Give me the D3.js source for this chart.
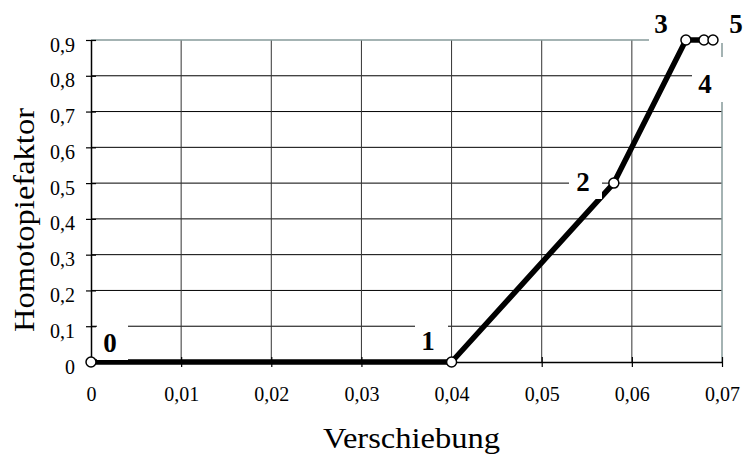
<!DOCTYPE html>
<html><head><meta charset="utf-8">
<script src="https://cdn.jsdelivr.net/npm/d3@7"></script>
<style>body{margin:0;background:#fff}svg{display:block}</style>
</head><body>
<svg id="c" width="744" height="456"></svg>
<script>
const xValues = [0, 0.04, 0.058, 0.066, 0.068, 0.069];
const yValues = [0, 0, 0.5, 0.9, 0.9, 0.9];
const pointLabels = ["0", "1", "2", "3", "4", "5"];
const xTicks = [0, 0.01, 0.02, 0.03, 0.04, 0.05, 0.06, 0.07];
const yTicks = [0, 0.1, 0.2, 0.3, 0.4, 0.5, 0.6, 0.7, 0.8, 0.9];
const xTitle = "Verschiebung";
const yTitle = "Homotopiefaktor";

const font = "'Liberation Serif', 'DejaVu Serif', serif";
const svg = d3.select("#c");
const x = d3.scaleLinear().domain([0, 0.07]).range([91, 722]);
const y = d3.scaleLinear().domain([0, 0.9]).range([362, 40]);
const fmtX = d => d === 0 ? "0" : d3.format(".2f")(d).replace(".", ",");
const fmtY = d => d === 0 ? "0" : d3.format(".1f")(d).replace(".", ",");

// grid
const g = svg.append("g");
g.selectAll(".hg").data(yTicks.filter(d => d > 0 && d < 0.9)).join("line")
  .attr("x1", x(0)).attr("x2", x(0.07)).attr("y1", d => y(d)).attr("y2", d => y(d))
  .attr("stroke", "#000").attr("stroke-width", 1);
g.selectAll(".vg").data(xTicks.filter(d => d > 0 && d < 0.07)).join("line")
  .attr("x1", d => x(d)).attr("x2", d => x(d)).attr("y1", y(0)).attr("y2", y(0.9))
  .attr("stroke", "#333").attr("stroke-width", 1);
g.append("line").attr("x1", x(0)).attr("x2", x(0.07)).attr("y1", y(0.9)).attr("y2", y(0.9))
  .attr("stroke", "#869a9a").attr("stroke-width", 1.5);
g.append("line").attr("x1", x(0.07)).attr("x2", x(0.07)).attr("y1", y(0.9)).attr("y2", y(0))
  .attr("stroke", "#869a9a").attr("stroke-width", 1.5);

// data line
const pts = xValues.map((v, i) => [v, yValues[i]]);
svg.append("path").datum(pts)
  .attr("d", d3.line().x(d => x(d[0])).y(d => y(d[1])))
  .attr("fill", "none").attr("stroke", "#000").attr("stroke-width", 5.5).attr("stroke-linejoin", "round");

// label boxes (mask gridlines)
const boxes = [
  {i: 0, bx: 97, by: 318, w: 31, h: 42, tx: 110, ty: 352},
  {i: 1, bx: 415, by: 318, w: 33, h: 37, tx: 428, ty: 350},
  {i: 2, bx: 569, by: 165, w: 33, h: 34, tx: 583, ty: 191},
  {i: 3, bx: 649, by: 8, w: 36, h: 35, tx: 661, ty: 33},
  {i: 4, bx: 692, by: 57, w: 40, h: 45, tx: 705, ty: 93},
  {i: 5, bx: 716, by: 8, w: 28, h: 35, tx: 736, ty: 33}
];
svg.selectAll(".box").data(boxes).join("rect")
  .attr("x", d => d.bx).attr("y", d => d.by).attr("width", d => d.w).attr("height", d => d.h)
  .attr("fill", "#fff");

// axes
const xAxis = svg.append("g").attr("transform", `translate(0,${y(0)})`)
  .call(d3.axisBottom(x).tickValues(xTicks).tickFormat(fmtX).tickSize(5).tickSizeOuter(0));
const yAxis = svg.append("g").attr("transform", `translate(${x(0)},0)`)
  .call(d3.axisLeft(y).tickValues(yTicks).tickFormat(fmtY).tickSize(5).tickSizeOuter(0));
[xAxis, yAxis].forEach(a => {
  a.attr("font-family", font).attr("font-size", 20);
  a.select(".domain").attr("stroke", "#000").attr("stroke-width", 1.5);
  a.selectAll(".tick line").attr("stroke", "#000").attr("stroke-width", 1.2);
  a.selectAll("text").attr("fill", "#000");
});
xAxis.selectAll(".tick line").attr("y1", -5).attr("y2", 5);
yAxis.selectAll(".tick line").attr("x1", -5).attr("x2", 5);
xAxis.selectAll("text").attr("dy", "0").attr("y", 39);
yAxis.selectAll("text").attr("x", -16).attr("dy", "0").attr("y", 11);

svg.selectAll(".lbl").data(boxes).join("text")
  .attr("x", d => d.tx).attr("y", d => d.ty).attr("text-anchor", "middle")
  .attr("font-family", font).attr("font-weight", "bold").attr("font-size", 27)
  .text(d => pointLabels[d.i]);

svg.selectAll(".pt").data(pts).join("circle")
  .attr("cx", d => x(d[0])).attr("cy", d => y(d[1])).attr("r", 5)
  .attr("fill", "#fff").attr("stroke", "#000").attr("stroke-width", 1.5);

// titles
svg.append("text").attr("x", 411.5).attr("y", 448).attr("text-anchor", "middle")
  .attr("font-family", font).attr("font-size", 29)
  .attr("textLength", 177).attr("lengthAdjust", "spacingAndGlyphs").text(xTitle);
svg.append("text").attr("transform", "translate(34,220) rotate(-90)").attr("text-anchor", "middle")
  .attr("font-family", font).attr("font-size", 29)
  .attr("textLength", 224).attr("lengthAdjust", "spacingAndGlyphs").text(yTitle);
</script>
</body></html>
